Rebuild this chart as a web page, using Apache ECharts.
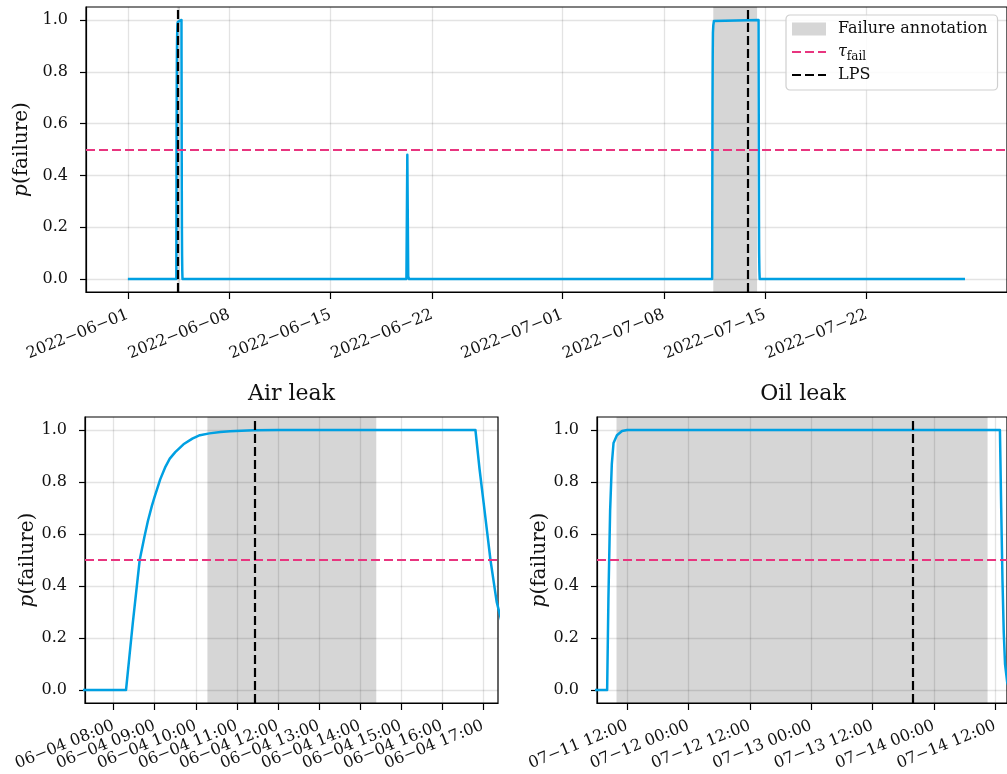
<!DOCTYPE html>
<html>
<head>
<meta charset="utf-8">
<script src="https://cdn.jsdelivr.net/npm/echarts@6/dist/echarts.min.js"></script>
<style>
  html, body { margin: 0; padding: 0; background: #fff; }
  #chart { width: 1007px; height: 774px; }
</style>
</head>
<body>
<div id="chart"></div>
<script>
// Predicted failure probability of the compressor over June–July 2022
const TIMES = [
  '2022-06-01 00:00',
  '2022-06-04 08:18', '2022-06-04 08:23', '2022-06-04 08:28', '2022-06-04 08:33',
  '2022-06-04 08:38', '2022-06-04 08:45', '2022-06-04 08:50', '2022-06-04 08:56',
  '2022-06-04 09:00', '2022-06-04 09:08', '2022-06-04 09:15', '2022-06-04 09:22',
  '2022-06-04 09:30', '2022-06-04 09:42', '2022-06-04 09:55', '2022-06-04 10:06',
  '2022-06-04 10:20', '2022-06-04 10:36', '2022-06-04 10:50', '2022-06-04 11:24',
  '2022-06-04 12:00', '2022-06-04 16:49', '2022-06-04 16:55', '2022-06-04 17:01',
  '2022-06-04 17:06', '2022-06-04 17:11', '2022-06-04 17:20', '2022-06-04 17:35',
  '2022-06-04 17:50', '2022-06-04 18:10', '2022-06-04 18:30',
  '2022-06-20 05:30', '2022-06-20 07:00', '2022-06-20 08:30', '2022-06-20 10:00',
  '2022-07-11 08:05', '2022-07-11 08:20', '2022-07-11 08:40', '2022-07-11 09:00',
  '2022-07-11 09:20', '2022-07-11 10:00', '2022-07-11 11:00', '2022-07-11 12:00',
  '2022-07-14 12:55', '2022-07-14 13:10', '2022-07-14 13:25', '2022-07-14 13:40',
  '2022-07-14 13:55', '2022-07-14 14:20', '2022-07-14 14:50',
  '2022-07-28 19:00'
];
const PROBS = [
  0,
  0, 0.13, 0.26, 0.38,
  0.50, 0.59, 0.65, 0.71,
  0.745, 0.81, 0.855, 0.89,
  0.915, 0.945, 0.967, 0.98,
  0.987, 0.992, 0.995, 0.999,
  1.0, 1.0, 0.85, 0.72,
  0.61, 0.50, 0.34, 0.18,
  0.09, 0.03, 0,
  0, 0.48, 0.01, 0,
  0, 0.35, 0.69, 0.87,
  0.95, 0.98, 0.996, 1.0,
  1.0, 0.70, 0.42, 0.22,
  0.10, 0.03, 0,
  0
];

// Decision threshold, annotated failure windows and last prediction steps
const TAU_FAIL = 0.5;
const ANNOT_START = ['2022-06-04 10:17', '2022-07-11 09:55'];
const ANNOT_END = ['2022-06-04 14:24', '2022-07-14 10:30'];
const LPS_TIMES = ['2022-06-04 11:26', '2022-07-13 19:47'];

// Axis ticks
const OVERVIEW_TICKS = ['2022-06-01 00:00', '2022-06-08 00:00', '2022-06-15 00:00', '2022-06-22 00:00',
  '2022-07-01 00:00', '2022-07-08 00:00', '2022-07-15 00:00', '2022-07-22 00:00'];
const AIR_TICKS = ['2022-06-04 08:00', '2022-06-04 09:00', '2022-06-04 10:00',
  '2022-06-04 11:00', '2022-06-04 12:00', '2022-06-04 13:00', '2022-06-04 14:00',
  '2022-06-04 15:00', '2022-06-04 16:00', '2022-06-04 17:00'];
const OIL_TICKS = ['2022-07-11 12:00', '2022-07-12 00:00', '2022-07-12 12:00',
  '2022-07-13 00:00', '2022-07-13 12:00', '2022-07-14 00:00', '2022-07-14 12:00'];
const Y_TICKS = [0, 0.2, 0.4, 0.6, 0.8, 1.0];
const PANEL_TITLES = ['Air leak', 'Oil leak'];

// Visible time window of each panel
const X_RANGES = [
  ['2022-05-29 02:38', '2022-07-31 16:34'],
  ['2022-06-04 07:18', '2022-06-04 17:22'],
  ['2022-07-11 06:06', '2022-07-14 14:18']
];

const FONT = 'DejaVu Serif';
const BLUE = '#00A0E2';
const PINK = '#E8357F';
const GRID_COLOR = 'rgba(0,0,0,0.11)';
const SHADE = 'rgba(0,0,0,0.16)';
const TEXT = '#111';
const MINUS = '\u2212';
// Dashed-line legend handle
const DASH_ICON = 'path://M0,0h9v2.2h-9z M13,0h9v2.2h-9z M26,0h8v2.2h-8z';

// Local-time parsing of 'YYYY-MM-DD HH:mm'
const ts = s => {
  const m = s.match(/(\d+)-(\d+)-(\d+) (\d+):(\d+)/);
  return new Date(+m[1], +m[2] - 1, +m[3], +m[4], +m[5]).getTime();
};
const pad = n => String(n).padStart(2, '0');
const fmtDay = v => { const d = new Date(v); return d.getFullYear() + MINUS + pad(d.getMonth() + 1) + MINUS + pad(d.getDate()); };
const fmtHour = v => { const d = new Date(v); return pad(d.getMonth() + 1) + MINUS + pad(d.getDate()) + ' ' + pad(d.getHours()) + ':' + pad(d.getMinutes()); };

const lineData = TIMES.map((t, i) => [ts(t), PROBS[i]]);

const grids = [
  { left: 86, top: 7, width: 924, height: 285 },
  { left: 85, top: 417, width: 413, height: 286 },
  { left: 597, top: 417, width: 412, height: 286 }
].map(g => Object.assign(g, { show: true, borderColor: '#000', borderWidth: 1.2, backgroundColor: 'transparent', containLabel: false }));

const tickSets = [OVERVIEW_TICKS, AIR_TICKS, OIL_TICKS];
const formatters = [fmtDay, fmtHour, fmtHour];

const labelStyle = {
  rotate: 22, margin: 22, fontFamily: FONT, fontSize: 16, color: TEXT,
  hideOverlap: false, showMinLabel: true, showMaxLabel: true
};

// The hourly air-leak labels sit closer than their rotated boxes, so they are
// spread over two overlaid bottom axes (even hours / odd hours).
const labelSets = [
  OVERVIEW_TICKS,
  AIR_TICKS.filter((t, k) => k % 2 === 0),
  OIL_TICKS
];

const xAxes = grids.map((g, i) => ({
  type: 'value', gridIndex: i, position: 'bottom',
  min: ts(X_RANGES[i][0]), max: ts(X_RANGES[i][1]),
  axisLine: { show: true, onZero: false, lineStyle: { color: '#000', width: 1.2 } },
  axisTick: { show: true, customValues: tickSets[i].map(ts), length: 7, lineStyle: { color: '#000', width: 1.2 } },
  axisLabel: Object.assign({ customValues: labelSets[i].map(ts), formatter: formatters[i] }, labelStyle),
  splitLine: { show: true, lineStyle: { color: GRID_COLOR, width: 1.3 } }
}));
xAxes.push({
  type: 'value', gridIndex: 1, position: 'bottom', offset: 0,
  min: ts(X_RANGES[1][0]), max: ts(X_RANGES[1][1]),
  axisLine: { show: false }, axisTick: { show: false }, splitLine: { show: false },
  axisLabel: Object.assign({ customValues: AIR_TICKS.filter((t, k) => k % 2 === 1).map(ts), formatter: fmtHour }, labelStyle)
});

const yAxes = grids.map((g, i) => ({
  type: 'value', gridIndex: i, min: -0.05, max: 1.05,
  axisLine: { show: true, lineStyle: { color: '#000', width: 1.2 } },
  axisTick: { show: true, customValues: Y_TICKS, length: 6, lineStyle: { color: '#000', width: 1.2 } },
  axisLabel: {
    customValues: Y_TICKS, formatter: v => v.toFixed(1), margin: 18,
    fontFamily: FONT, fontSize: 16, color: TEXT
  },
  splitLine: { show: true, lineStyle: { color: GRID_COLOR, width: 1.3 } },
  name: '{i|p}(failure)', nameLocation: 'middle', nameGap: 47,
  nameTextStyle: {
    fontFamily: FONT, fontSize: 20, color: TEXT,
    rich: { i: { fontFamily: FONT, fontSize: 20, fontStyle: 'italic', color: TEXT } }
  }
}));

const inRange = (t, i) => ts(t) >= ts(X_RANGES[i][0]) && ts(t) <= ts(X_RANGES[i][1]);
const overlaps = (a, b, i) => ts(b) >= ts(X_RANGES[i][0]) && ts(a) <= ts(X_RANGES[i][1]);

const series = [];
grids.forEach((g, i) => {
  series.push({
    type: 'bar', name: 'Failure annotation', xAxisIndex: i, yAxisIndex: i, data: [],
    itemStyle: { color: '#d6d6d6' }, z: 1,
    markArea: {
      silent: true, itemStyle: { color: SHADE },
      data: ANNOT_START.map((s, k) => [{ xAxis: ts(s) }, { xAxis: ts(ANNOT_END[k]) }])
        .filter((p, k) => overlaps(ANNOT_START[k], ANNOT_END[k], i))
    }
  });
  series.push({
    type: 'line', name: 'p(failure)', xAxisIndex: i, yAxisIndex: i, data: lineData,
    symbol: 'none', showSymbol: false, clip: true, z: 3,
    lineStyle: { color: BLUE, width: 2.5, join: 'round' }, itemStyle: { color: BLUE }
  });
  series.push({
    type: 'line', name: 'τfail', xAxisIndex: i, yAxisIndex: i, data: [], symbol: 'none', z: 4,
    lineStyle: { color: PINK, width: 2, type: [9, 4] }, itemStyle: { color: PINK },
    markLine: {
      silent: true, symbol: 'none', label: { show: false }, emphasis: { disabled: true },
      lineStyle: { color: PINK, width: 2, type: [9, 4] },
      data: [{ yAxis: TAU_FAIL }]
    }
  });
  series.push({
    type: 'line', name: 'LPS', xAxisIndex: i, yAxisIndex: i, data: [], symbol: 'none', z: 5,
    lineStyle: { color: '#000', width: 2.2, type: [9, 4] }, itemStyle: { color: '#000' },
    markLine: {
      silent: true, symbol: 'none', label: { show: false }, emphasis: { disabled: true },
      lineStyle: { color: '#000', width: 2.2, type: [9, 4] },
      data: LPS_TIMES.filter(t => inRange(t, i)).map(t => ({ xAxis: ts(t) }))
    }
  });
});

const titleCenters = [grids[1].left + grids[1].width / 2, grids[2].left + grids[2].width / 2];

const option = {
  animation: false,
  backgroundColor: '#fff',
  grid: grids,
  xAxis: xAxes,
  yAxis: yAxes,
  series: series,
  legend: {
    orient: 'vertical', left: 786, top: 15,
    itemWidth: 34, itemHeight: 13, itemGap: 1,
    padding: [3, 10, 4, 6], symbolKeepAspect: true,
    backgroundColor: 'rgba(255,255,255,0.85)', borderColor: '#cfcfcf', borderWidth: 1.2, borderRadius: 4,
    selectedMode: false,
    textStyle: {
      fontFamily: FONT, fontSize: 16, color: TEXT, lineHeight: 22, padding: [0, 0, 0, 7],
      rich: {
        t: { fontFamily: FONT, fontSize: 16, fontStyle: 'italic', color: TEXT, lineHeight: 22 },
        s: { fontFamily: FONT, fontSize: 12, color: TEXT, lineHeight: 12, verticalAlign: 'bottom' }
      }
    },
    formatter: n => (n === 'τfail' ? '{t|τ}{s|fail}' : n),
    data: [
      { name: 'Failure annotation', icon: 'rect', itemStyle: { color: '#d6d6d6', borderWidth: 0 } },
      { name: 'τfail', icon: DASH_ICON, itemStyle: { color: PINK, borderWidth: 0 } },
      { name: 'LPS', icon: DASH_ICON, itemStyle: { color: '#000', borderWidth: 0 } }
    ]
  },
  graphic: PANEL_TITLES.map((t, k) => ({
    type: 'text', x: titleCenters[k], y: 394,
    style: { text: t, fontFamily: FONT, fontSize: 22, fill: TEXT, align: 'center', verticalAlign: 'middle' }
  }))
};

const chart = echarts.init(document.getElementById('chart'), null, { renderer: 'canvas' });
chart.setOption(option);
</script>
</body>
</html>
